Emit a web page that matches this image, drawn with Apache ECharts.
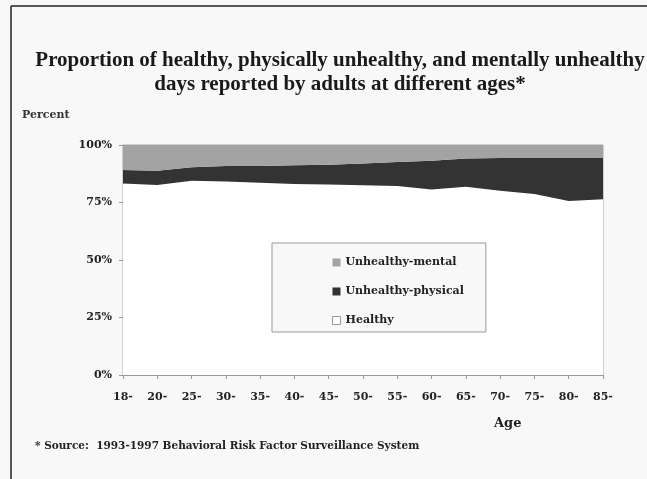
<!DOCTYPE html>
<html>
<head>
<meta charset="utf-8">
<script src="https://cdn.jsdelivr.net/npm/echarts@6/dist/echarts.min.js"></script>
<style>
  html, body { margin: 0; padding: 0; background: #f8f8f8; }
  #chart { width: 647px; height: 479px; }
</style>
</head>
<body>
<div id="chart"></div>
<script>
var ages = ["18-", "20-", "25-", "30-", "35-", "40-", "45-", "50-", "55-", "60-", "65-", "70-", "75-", "80-", "85-"];
// percent of days, stacked bottom to top
var healthy = [83.3, 82.6, 84.5, 84.1, 83.6, 83.0, 82.8, 82.5, 82.2, 80.7, 81.9, 80.1, 78.7, 75.7, 76.4];
var physical = [5.8, 6.2, 5.8, 6.8, 7.3, 8.2, 8.6, 9.5, 10.4, 12.5, 12.2, 14.2, 15.6, 18.6, 17.9];
var mental = [10.9, 11.2, 9.7, 9.1, 9.1, 8.8, 8.6, 8.0, 7.4, 6.8, 5.9, 5.7, 5.7, 5.7, 5.7];
var yTicks = [0, 25, 50, 75, 100];

var serif = "Liberation Serif";
var wide = "DejaVu Serif";
var chart = echarts.init(document.getElementById("chart"));

function area(name, data, color) {
  return {
    name: name,
    type: "line",
    stack: "days",
    data: data,
    symbol: "none",
    lineStyle: { width: 0 },
    itemStyle: { color: color },
    areaStyle: { color: color, opacity: 1 }
  };
}

var option = {
  backgroundColor: "#f8f8f8",
  animation: false,
  title: {
    text: "Proportion of healthy, physically unhealthy, and mentally unhealthy\ndays reported by adults at different ages*",
    left: 335,
    top: 44,
    textAlign: "center",
    textStyle: { fontFamily: serif, fontSize: 21, fontWeight: "bold", color: "#1a1a1a", lineHeight: 24 }
  },
  legend: {
    orient: "vertical",
    left: 272,
    top: 243,
    padding: [14, 22, 6, 60],
    itemGap: 18,
    itemWidth: 8,
    itemHeight: 8,
    icon: "rect",
    borderColor: "#999",
    borderWidth: 1,
    backgroundColor: "#f8f8f8",
    textStyle: { fontFamily: wide, fontSize: 11, fontWeight: "bold", color: "#222" },
    data: [
      { name: "Unhealthy-mental" },
      { name: "Unhealthy-physical" },
      { name: "Healthy", itemStyle: { borderColor: "#999", borderWidth: 1 } }
    ]
  },
  grid: {
    left: 123, right: 44, top: 145, bottom: 104,
    show: true, borderColor: "#aaa", borderWidth: 1
  },
  xAxis: {
    type: "category",
    data: ages,
    boundaryGap: false,
    axisLine: { lineStyle: { color: "#999" } },
    axisTick: { show: true, alignWithLabel: true, length: 4, lineStyle: { color: "#999" } },
    axisLabel: { fontFamily: wide, fontSize: 11, fontWeight: "bold", color: "#222", margin: 17, interval: 0 },
    splitLine: { show: false }
  },
  yAxis: {
    type: "value",
    min: 0,
    max: 100,
    interval: 25,
    axisLine: { show: true, lineStyle: { color: "#999" } },
    axisTick: { show: true, length: 4, lineStyle: { color: "#999" } },
    axisLabel: {
      fontFamily: wide, fontSize: 11, fontWeight: "bold", color: "#222", margin: 11,
      formatter: function (v) { return yTicks.indexOf(v) >= 0 ? v + "%" : ""; }
    },
    splitLine: { show: false }
  },
  series: [
    area("Healthy", healthy, "#ffffff"),
    area("Unhealthy-physical", physical, "#333333"),
    area("Unhealthy-mental", mental, "#a3a3a3")
  ],
  graphic: [
    { type: "line", shape: { x1: 11, y1: 6, x2: 11, y2: 479 }, style: { stroke: "#222", lineWidth: 1.5 } },
    { type: "line", shape: { x1: 11, y1: 6, x2: 647, y2: 6 }, style: { stroke: "#222", lineWidth: 1.5 } },
    { type: "text", left: 22, top: 110, style: { text: "Percent", fontFamily: wide, fontSize: 11, fontWeight: "bold", fill: "#333" } },
    { type: "text", left: 494, top: 417, style: { text: "Age", fontFamily: wide, fontSize: 13, fontWeight: "bold", fill: "#222" } },
    { type: "text", left: 35, top: 441, style: { text: "* Source:  1993-1997 Behavioral Risk Factor Surveillance System", fontFamily: wide, fontSize: 10.5, fontWeight: "bold", fill: "#222" } }
  ]
};
chart.setOption(option);
</script>
</body>
</html>
